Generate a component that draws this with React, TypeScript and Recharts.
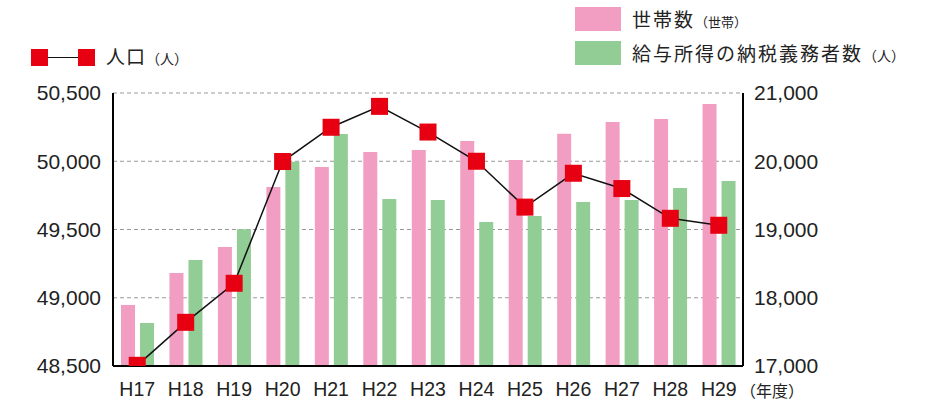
import { ComposedChart, Bar, Line, XAxis, YAxis, CartesianGrid } from "recharts";

const years = ["H17", "H18", "H19", "H20", "H21", "H22", "H23", "H24", "H25", "H26", "H27", "H28", "H29"];
const population = [48505, 48820, 49106, 49998, 50249, 50402, 50214, 50000, 49664, 49912, 49800, 49582, 49531];
const households = [17894, 18363, 18744, 19623, 19916, 20136, 20165, 20297, 20018, 20402, 20575, 20619, 20839];
const taxpayers = [17630, 18553, 19003, 19993, 20399, 19447, 19432, 19110, 19198, 19403, 19432, 19608, 19711];
const leftTicks = [48500, 49000, 49500, 50000, 50500];
const rightTicks = [17000, 18000, 19000, 20000, 21000];

const data = years.map((year, i) => ({
  year,
  population: population[i],
  households: households[i],
  taxpayers: taxpayers[i],
}));

const PINK = "#F19EC2";
const GREEN = "#93CD96";
const RED = "#E60012";
const FONT = "'Liberation Sans', Arial, 'Noto Sans CJK JP', sans-serif";
const JP = "'Noto Sans CJK JP', sans-serif";

const fmt = (v: number) => v.toLocaleString("en-US");

const SquareDot = (props: any) => {
  const { cx, cy, index } = props;
  if (cx == null || cy == null) return null;
  return <rect key={index} x={cx - 8.5} y={cy - 8.5} width={17} height={17} fill={RED} />;
};

const tickStyle = { fontSize: 21, fill: "#222", fontFamily: FONT };

export default function App() {
  return (
    <div style={{ position: "absolute", left: 0, top: 0, width: 938, height: 403, background: "#fff" }}>
      <ComposedChart
        width={938}
        height={403}
        data={data}
        margin={{ top: 93, right: 105, bottom: 0, left: 0 }}
        barSize={14}
        barGap={5}
      >
        <CartesianGrid
          yAxisId="left"
          vertical={false}
          stroke="#999"
          strokeDasharray="4 3"
          strokeWidth={1}
        />
        <XAxis
          dataKey="year"
          height={37}
          tickLine={false}
          tickSize={0}
          tickMargin={16}
          axisLine={{ stroke: "#000", strokeWidth: 2 }}
          tick={{ fontSize: 19.5, fill: "#222", fontFamily: FONT }}
          interval={0}
        />
        <YAxis
          yAxisId="left"
          orientation="left"
          width={113}
          domain={[48500, 50500]}
          ticks={leftTicks}
          tickFormatter={fmt}
          tickLine={false}
          tickSize={0}
          tickMargin={12}
          axisLine={{ stroke: "#000", strokeWidth: 2 }}
          tick={tickStyle}
          allowDataOverflow
        />
        <YAxis
          yAxisId="right"
          orientation="right"
          width={90}
          domain={[17000, 21000]}
          ticks={rightTicks}
          tickFormatter={fmt}
          tickLine={false}
          tickSize={0}
          tickMargin={11}
          axisLine={{ stroke: "#000", strokeWidth: 2 }}
          tick={tickStyle}
        />
        <Bar yAxisId="right" dataKey="households" fill={PINK} isAnimationActive={false} />
        <Bar yAxisId="right" dataKey="taxpayers" fill={GREEN} isAnimationActive={false} />
        <Line
          yAxisId="left"
          type="linear"
          dataKey="population"
          stroke="#111"
          strokeWidth={1.5}
          dot={<SquareDot />}
          activeDot={false}
          isAnimationActive={false}
        />
      </ComposedChart>

      {/* legend: line series */}
      <div style={{ position: "absolute", left: 31, top: 49, width: 64, height: 17 }}>
        <div style={{ position: "absolute", left: 0, top: 0, width: 17, height: 17, background: RED }} />
        <div style={{ position: "absolute", left: 17, top: 7.5, width: 30, height: 1.5, background: "#111" }} />
        <div style={{ position: "absolute", left: 47, top: 0, width: 17, height: 17, background: RED }} />
      </div>
      <div style={{ position: "absolute", left: 106, top: 44, fontFamily: JP, fontSize: 19, letterSpacing: 1, color: "#222", whiteSpace: "nowrap", lineHeight: "24px" }}>
        人口<span style={{ fontSize: 14, letterSpacing: 0 }}>（人）</span>
      </div>

      {/* legend: bars */}
      <div style={{ position: "absolute", left: 575, top: 7, width: 46, height: 24, background: PINK }} />
      <div style={{ position: "absolute", left: 632, top: 7, fontFamily: JP, fontSize: 19, letterSpacing: 2, color: "#222", whiteSpace: "nowrap", lineHeight: "24px" }}>
        世帯数<span style={{ fontSize: 13, letterSpacing: 0 }}>（世帯）</span>
      </div>
      <div style={{ position: "absolute", left: 575, top: 41, width: 46, height: 24, background: GREEN }} />
      <div style={{ position: "absolute", left: 632, top: 41, fontFamily: JP, fontSize: 19, letterSpacing: 2, color: "#222", whiteSpace: "nowrap", lineHeight: "24px" }}>
        給与所得の納税義務者数<span style={{ fontSize: 14, letterSpacing: 0 }}>（人）</span>
      </div>

      {/* x axis unit */}
      <div style={{ position: "absolute", left: 740, top: 380, fontFamily: JP, fontSize: 16, color: "#222", whiteSpace: "nowrap", lineHeight: "20px" }}>
        （年度）
      </div>
    </div>
  );
}
